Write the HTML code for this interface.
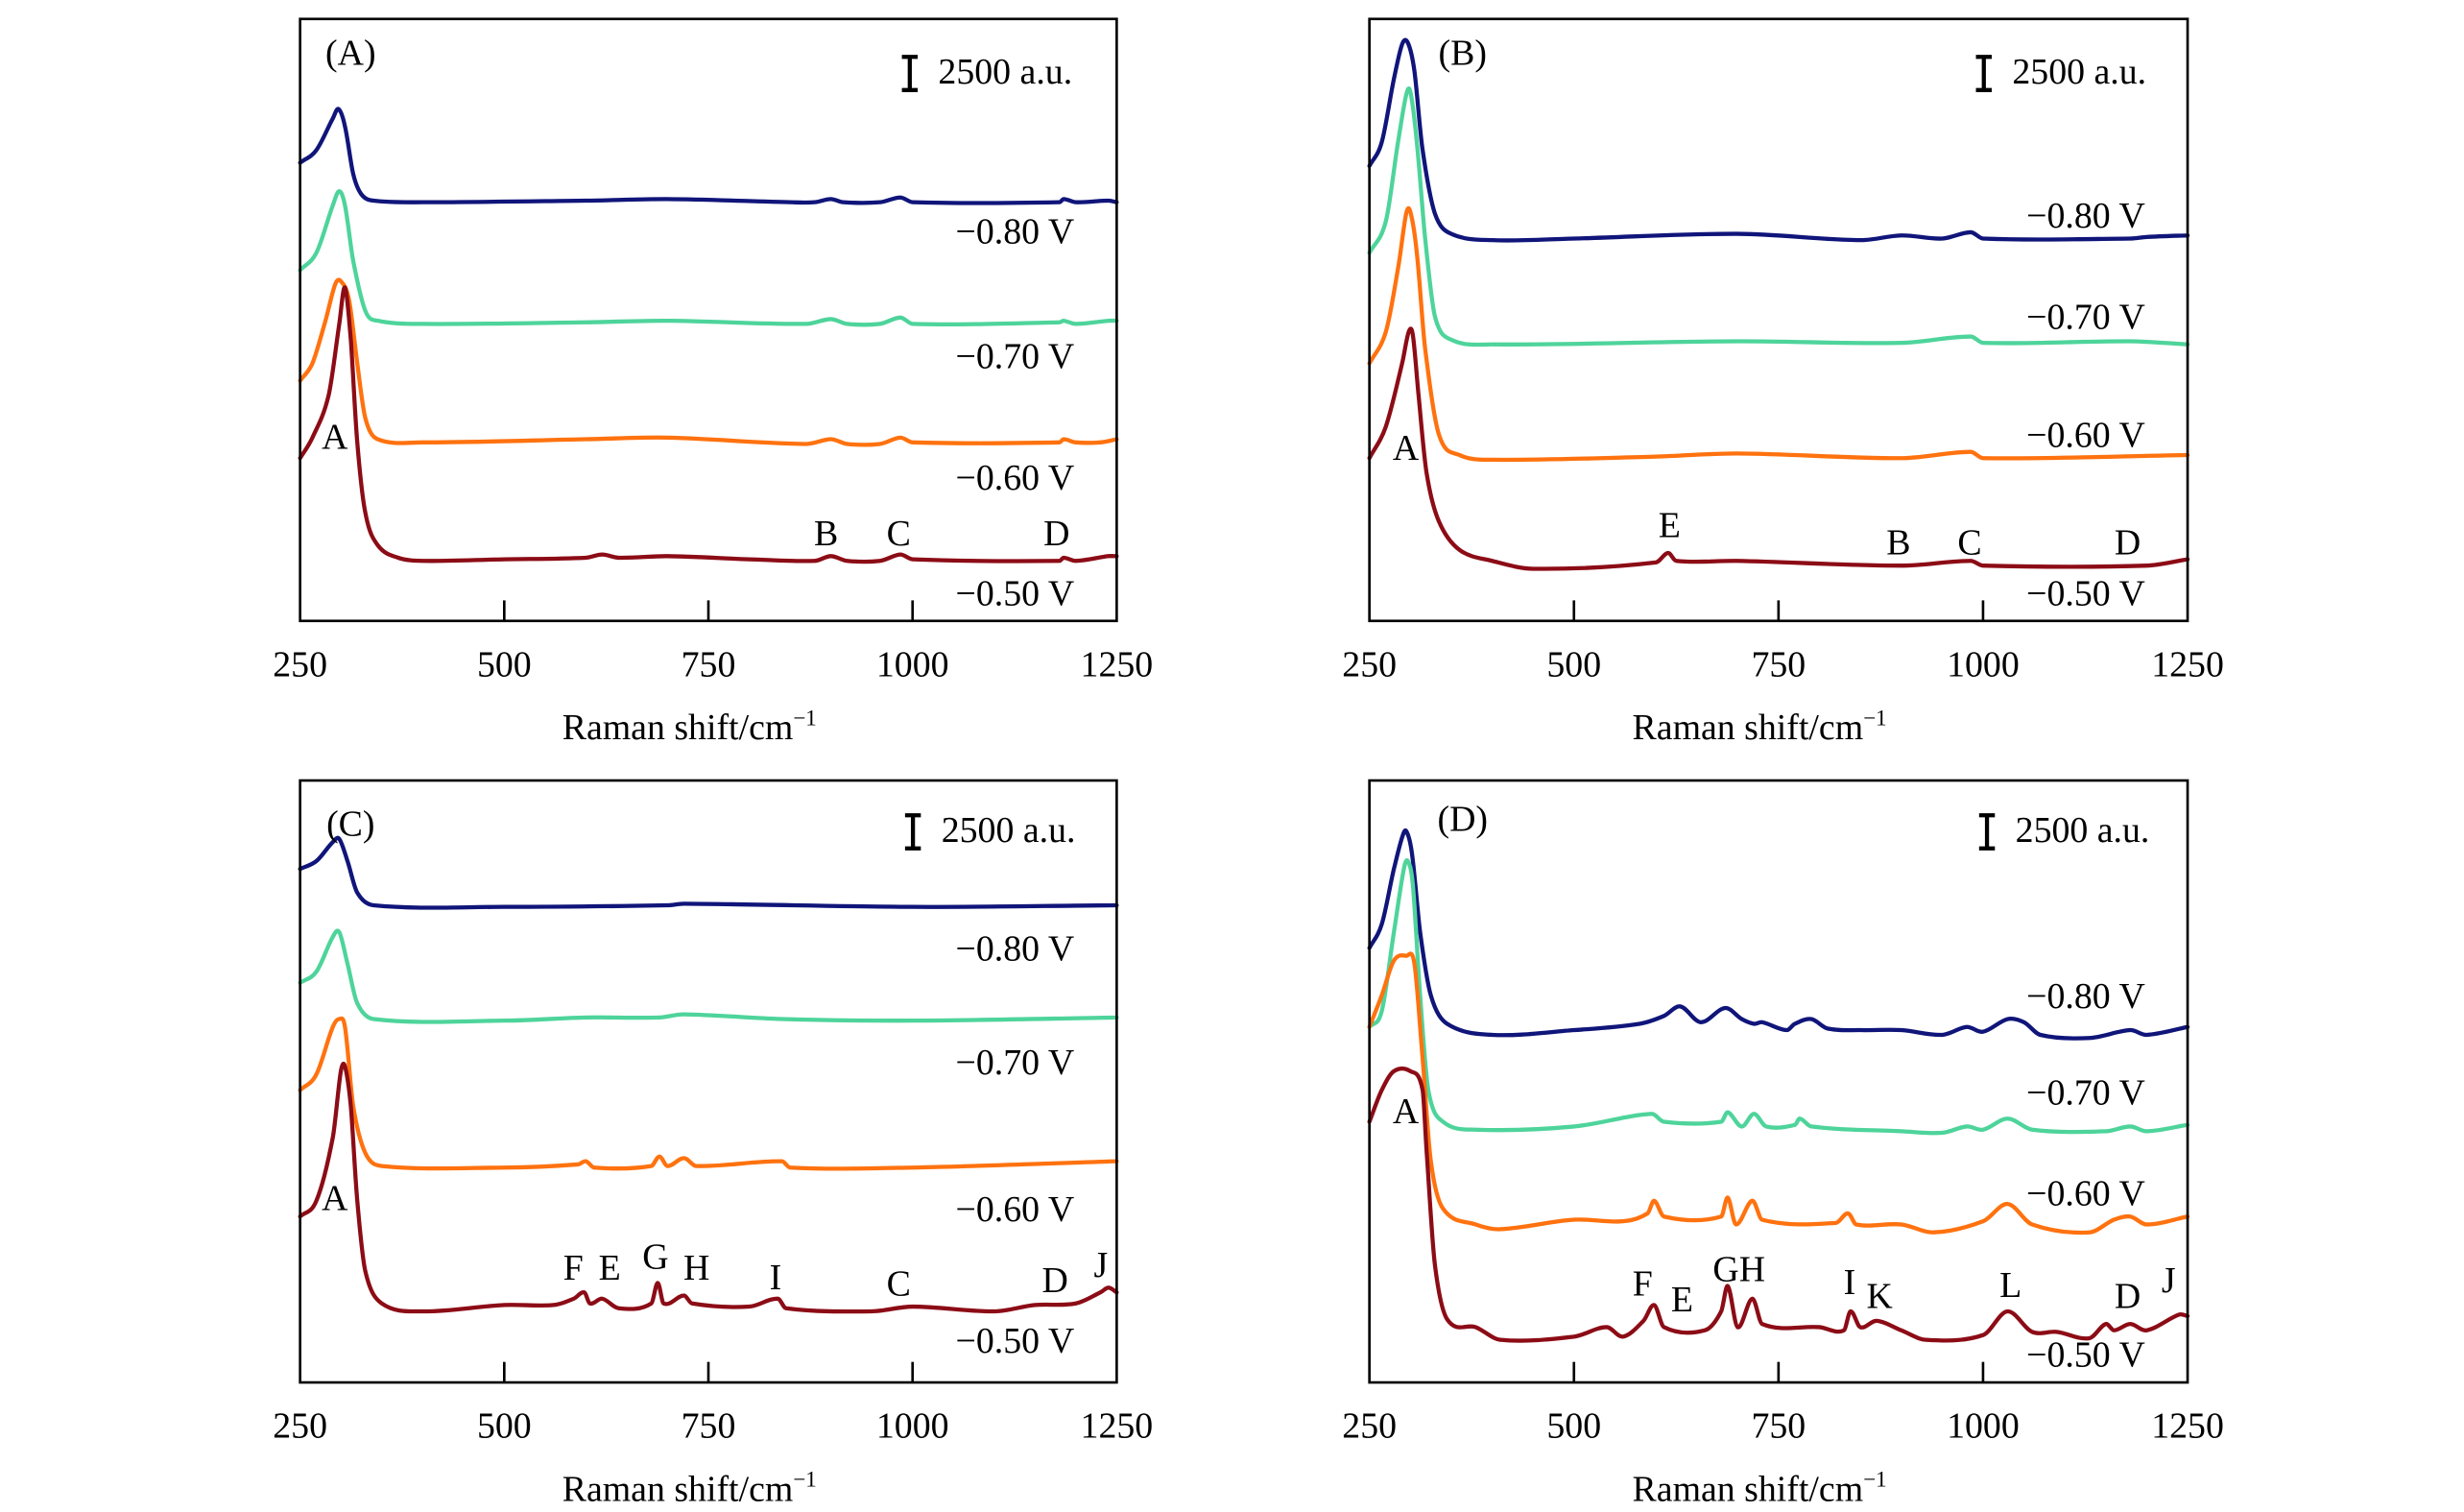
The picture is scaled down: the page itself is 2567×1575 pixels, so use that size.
<!DOCTYPE html>
<html><head><meta charset="utf-8"><style>
html,body{margin:0;padding:0;background:#fff;}
svg{display:block;font-family:"Liberation Serif","DejaVu Serif",serif;}
</style></head><body>
<svg id="fig" width="2567" height="1575" viewBox="0 0 1560 957" preserveAspectRatio="none" xmlns="http://www.w3.org/2000/svg"></svg>
<script>
// Intensity unit: arbitrary (1 unit ≈ 2500/20 a.u.). Pairs: [Raman shift cm^-1, intensity]
const xTicks = [250, 500, 750, 1000, 1250];
const voltages = ["\u22120.80 V", "\u22120.70 V", "\u22120.60 V", "\u22120.50 V"];
const colors = ["#10157a", "#4ed49b", "#ff720f", "#8c0c16"];

const aNavy = [[250,290],[270,298],[290,318],[297,324],[305,313],[315,283],[325,270],[340,266],[400,265],[600,266],[700,267],[850,265],[880,265],[900,267],[915,265],[960,265],[985,268],[1000,265],[1180,265],[1185,267],[1200,265],[1240,266],[1250,265]];
const aTeal = [[250,222],[270,233],[290,263],[298,272],[305,263],[315,228],[330,196],[345,190],[400,188],[600,189],[700,190],[870,188],[900,191],[920,188],[960,188],[985,192],[1000,188],[1180,189],[1185,190],[1200,188],[1240,190],[1250,190]];
const aOrange = [[250,152],[265,163],[280,188],[293,213],[300,215],[310,203],[320,163],[330,128],[345,115],[400,113],[600,115],[700,116],[870,112],[900,115],[920,112],[960,112],[985,116],[1000,113],[1180,113],[1185,115],[1200,113],[1230,113],[1250,115]];
const aMaroon = [[250,103],[265,116],[285,143],[298,188],[305,211],[312,178],[320,113],[330,68],[345,48],[370,40],[400,38],[500,39],[600,40],[620,42],[640,40],[700,41],[800,39],[880,38],[900,41],[920,38],[960,38],[985,42],[1000,39],[1180,38],[1185,40],[1200,38],[1240,41],[1250,41]];

const bNavy = [[250,288],[265,303],[280,343],[290,365],[297,366],[305,348],[315,298],[330,258],[350,245],[400,241],[500,242],[700,245],[850,241],[900,244],[950,242],[985,246],[1000,242],[1180,242],[1200,243],[1250,244]];
const bTeal = [[250,233],[270,253],[285,303],[295,333],[300,335],[308,303],[318,243],[330,193],[350,178],[400,175],[700,177],[900,176],[985,180],[1000,176],[1180,177],[1250,175]];
const bOrange = [[250,163],[270,183],[285,223],[295,258],[300,259],[308,233],[318,173],[335,118],[360,105],[400,102],[600,104],[700,106],[900,103],[985,107],[1000,103],[1250,105]];
const bMaroon = [[250,103],[270,123],[290,163],[298,183],[303,181],[310,143],[320,93],[335,63],[360,45],[400,38],[450,33],[600,37],[615,43],[625,38],[700,38],[900,35],[985,38],[1000,35],[1200,35],[1250,39]];

const cNavy = [[250,325],[270,330],[290,342],[298,344],[308,330],[320,310],[340,302],[500,301],[700,302],[720,303],[1000,301],[1250,302]];
const cTeal = [[250,253],[270,260],[290,282],[298,285],[308,265],[320,240],[340,230],[500,229],[600,231],[690,231],[720,233],[840,230],[1000,229],[1250,231]];
const cOrange = [[250,185],[270,195],[290,225],[298,230],[305,225],[315,175],[330,145],[350,137],[500,136],[590,138],[600,140],[610,136],[680,137],[690,143],[700,137],[720,142],[735,137],[840,140],[850,136],[1000,136],[1250,140]];
const cMaroon = [[250,105],[270,115],[290,155],[300,197],[305,200],[312,175],[320,115],[330,70],[350,50],[400,45],[500,49],[560,49],[585,53],[598,57],[605,50],[620,53],[640,47],[680,50],[688,63],[695,50],[720,55],[730,50],[800,48],[835,53],[845,47],[950,45],[1000,48],[1100,45],[1150,49],[1200,50],[1230,57],[1240,60],[1250,57]];

const dNavy = [[250,275],[265,290],[280,325],[290,345],[295,349],[302,335],[312,285],[325,245],[345,227],[400,220],[500,223],[580,227],[610,232],[630,238],[655,228],[685,237],[705,230],[720,227],[730,228],[760,223],[770,227],[790,230],[810,224],[850,223],[900,223],[950,220],[980,225],[1000,222],[1030,230],[1050,228],[1070,220],[1130,218],[1180,223],[1200,220],[1250,225]];
const dTeal = [[250,225],[265,235],[280,285],[292,325],[297,330],[303,315],[312,245],[322,185],[340,165],[380,160],[500,162],[595,170],[610,165],[680,165],[688,171],[705,162],[720,170],[735,162],[770,163],[776,167],[790,162],[900,159],[950,158],[980,162],[1000,160],[1030,167],[1060,160],[1150,159],[1180,162],[1200,159],[1250,163]];
const dOrange = [[250,225],[265,245],[280,267],[295,270],[305,265],[315,205],[325,140],[340,110],[380,100],[410,97],[500,103],[560,102],[590,107],[598,115],[610,105],[680,105],[688,117],[698,100],[718,115],[730,103],[820,101],[835,107],[845,100],[900,100],[940,95],[1000,102],[1030,113],[1060,100],[1130,95],[1160,103],[1180,105],[1200,100],[1250,105]];
const dMaroon = [[250,165],[265,185],[280,197],[300,197],[315,185],[320,145],[330,75],[345,40],[380,35],[410,27],[500,29],[540,35],[560,29],[585,39],[598,49],[610,35],[660,33],[680,45],[688,61],[700,35],[718,53],[730,37],[800,35],[830,33],[838,45],[850,35],[870,39],[900,33],[930,27],[1000,30],[1030,45],[1060,32],[1090,32],[1130,28],[1150,37],[1160,33],[1180,37],[1200,33],[1240,43],[1250,42]];

const panels = [
  {id:"a", tag:"(A)", x0:190, x1:707, y0:12, y1:393, series:[aNavy,aTeal,aOrange,aMaroon],
   tagPos:[222,41], bar:[576,36,57], vlab:[[605,154],[605,233],[605,310],[605,383]],
   peaks:[["A",212,284],["B",523,345],["C",569,345],["D",669,345]]},
  {id:"b", tag:"(B)", x0:867, x1:1385, y0:12, y1:393, series:[bNavy,bTeal,bOrange,bMaroon],
   tagPos:[926,41], bar:[1256,36,57], vlab:[[1283,144],[1283,208],[1283,283],[1283,383]],
   peaks:[["A",890,291],["E",1057,340],["B",1202,351],["C",1247,351],["D",1347,351]]},
  {id:"c", tag:"(C)", x0:190, x1:707, y0:494, y1:875, series:[cNavy,cTeal,cOrange,cMaroon],
   tagPos:[222,529], bar:[578,516,537], vlab:[[605,608],[605,680],[605,773],[605,856]],
   peaks:[["A",212,766],["F",363,810],["E",386,810],["G",415,803],["H",441,810],["I",491,816],["C",569,820],["D",668,818],["J",697,808]]},
  {id:"d", tag:"(D)", x0:867, x1:1385, y0:494, y1:875, series:[dNavy,dTeal,dOrange,dMaroon],
   tagPos:[926,526], bar:[1258,516,537], vlab:[[1283,638],[1283,699],[1283,763],[1283,865]],
   peaks:[["A",890,711],["F",1040,820],["E",1065,830],["GH",1101,811],["I",1171,819],["K",1190,828],["L",1273,821],["D",1347,828],["J",1373,818]]}
];
const yMax = 381;
const NS = "http://www.w3.org/2000/svg";
const svg = document.getElementById("fig");
function mk(tag, attrs, parent){const e=document.createElementNS(NS,tag);for(const k in attrs)e.setAttribute(k,attrs[k]);(parent||svg).appendChild(e);return e;}
function txt(str,x,y,anchor,size,parent){const t=mk("text",{x:x,y:y,"text-anchor":anchor,"font-size":size,fill:"#000"},parent);t.textContent=str;return t;}
function smooth(P){
  const n=P.length, m=[];
  for(let i=0;i<n;i++){
    const a=P[Math.max(0,i-1)], b=P[Math.min(n-1,i+1)];
    m.push((b[1]-a[1])/(b[0]-a[0]));
  }
  let d = "M"+P[0][0].toFixed(1)+","+P[0][1].toFixed(1);
  for(let i=0;i<n-1;i++){
    const p1=P[i], p2=P[i+1], h=(p2[0]-p1[0])/3;
    d+=" C"+(p1[0]+h).toFixed(1)+","+(p1[1]+m[i]*h).toFixed(1)+" "+(p2[0]-h).toFixed(1)+","+(p2[1]-m[i+1]*h).toFixed(1)+" "+p2[0].toFixed(1)+","+p2[1].toFixed(1);
  }
  return d;
}

panels.forEach(p=>{
  const g = mk("g",{});
  
  
  const xs = v => p.x0 + (v-250)/1000*(p.x1-p.x0);
  const ys = v => p.y1 - v/yMax*(p.y1-p.y0);
  p.series.forEach((s,i)=>{
    const P = s.map(d=>[xs(d[0]), ys(d[1])]);
    const pl = mk("path",{d:smooth(P),fill:"none",stroke:colors[i],"stroke-width":2.6,"stroke-linejoin":"round","stroke-linecap":"round"},g);
    
    
  });
  const fr = mk("rect",{x:p.x0,y:p.y0,width:p.x1-p.x0,height:p.y1-p.y0,fill:"none",stroke:"#000","stroke-width":1.6},g);
  
  
  xTicks.forEach(t=>{
    if(t>250 && t<1250){
      const tk = mk("line",{x1:xs(t),x2:xs(t),y1:p.y1,y2:p.y1-13,stroke:"#000","stroke-width":1.6},g);
      
      
    }
    const tl = txt(String(t),xs(t),p.y1+35,"middle",23,g);
    
    
  });
  const at = txt("Raman shift/cm",(p.x0+p.x1)/2-12,p.y1+75,"middle",23,g);
  
  
  const sup = mk("tspan",{"font-size":14,dy:-9},at); sup.textContent="\u22121";
  const tg = txt(p.tag,p.tagPos[0],p.tagPos[1],"middle",23,g);
  
  
  const bar = mk("path",{d:`M${p.bar[0]-5},${p.bar[1]}h10M${p.bar[0]},${p.bar[1]}V${p.bar[2]}M${p.bar[0]-5},${p.bar[2]}h10`,stroke:"#000","stroke-width":2.6,fill:"none"},g);
  
  
  const bl = txt("2500 a.u.",p.bar[0]+18,p.bar[1]+17,"start",23,g);
  
  
  p.vlab.forEach((v,i)=>{
    const t = txt(voltages[i],v[0],v[1],"start",23,g);
    
    
  });
  p.peaks.forEach(pk=>{
    const t = txt(pk[0],pk[1],pk[2],"middle",23,g);
    
    
  });
});
</script>
</body></html>
